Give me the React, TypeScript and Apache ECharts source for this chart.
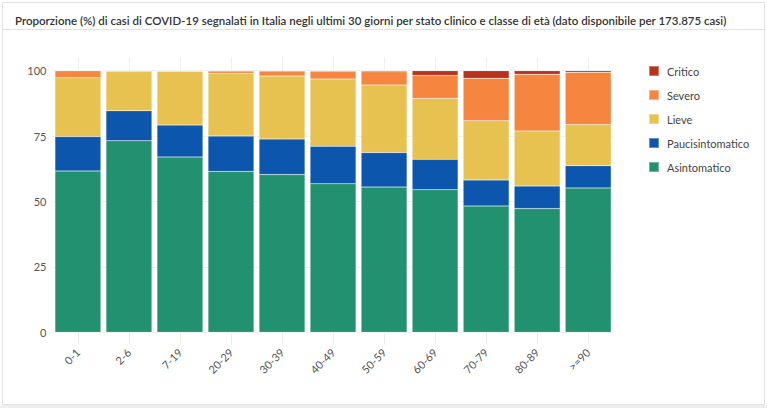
import React, { useEffect, useRef } from "react";
import * as echarts from "echarts";

// Age classes on the x axis
const categories = ["0-1", "2-6", "7-19", "20-29", "30-39", "40-49", "50-59", "60-69", "70-79", "80-89", ">=90"];

// Share (%) of cases by clinical status, one value per age class
const asintomatico = [61.7, 73.2, 67.0, 61.5, 60.3, 56.8, 55.5, 54.5, 48.3, 47.3, 55.2];
const paucisintomatico = [13.1, 11.5, 12.2, 13.5, 13.6, 14.3, 13.2, 11.6, 9.9, 8.6, 8.5];
const lieve = [22.5, 15.0, 20.6, 24.0, 24.1, 25.7, 25.8, 23.3, 22.7, 21.0, 15.7];
const severo = [2.7, 0.3, 0.2, 0.9, 1.9, 2.9, 5.1, 8.8, 16.2, 21.7, 20.0];
const critico = [0, 0, 0, 0.1, 0.1, 0.3, 0.4, 1.8, 2.9, 1.4, 0.6];

const yTicks = [0, 25, 50, 75, 100];

const TITLE =
  "Proporzione (%) di casi di COVID-19 segnalati in Italia negli ultimi 30 giorni per stato clinico e classe di età (dato disponibile per 173.875 casi)";

const FONT = "Lato, 'Noto Sans', sans-serif";

export default function App() {
  const ref = useRef<HTMLDivElement>(null);

  useEffect(() => {
    document.body.style.margin = "0";
    if (!ref.current) return;
    const chart = echarts.init(ref.current, undefined, { renderer: "svg" });

    const seriesDefs = [
      { name: "Asintomatico", data: asintomatico, color: "#22916f" },
      { name: "Paucisintomatico", data: paucisintomatico, color: "#0c57ad" },
      { name: "Lieve", data: lieve, color: "#e7c251" },
      { name: "Severo", data: severo, color: "#f6853f" },
      { name: "Critico", data: critico, color: "#b8321d" },
    ];

    chart.setOption({
      animation: false,
      backgroundColor: "#ffffff",
      textStyle: { fontFamily: FONT },
      title: {
        text: TITLE,
        left: 10,
        top: 9,
        textStyle: { fontFamily: FONT, fontSize: 11.5, fontWeight: 600, color: "#333" },
      },
      graphic: [
        {
          type: "rect",
          silent: true,
          z: -10,
          shape: { x: 2.5, y: 2.5, width: 762, height: 402 },
          style: { fill: "none", stroke: "#e2e2e2", lineWidth: 1 },
        },
        {
          type: "rect",
          silent: true,
          z: -10,
          shape: { x: 0, y: 405, width: 767, height: 3 },
          style: { fill: "#eeeeee" },
        },
        {
          type: "line",
          silent: true,
          z: -10,
          shape: { x1: 2.5, y1: 29.5, x2: 764.5, y2: 29.5 },
          style: { stroke: "#e2e2e2", lineWidth: 1 },
        },
      ],
      legend: {
        orient: "vertical",
        left: 643,
        top: 60,
        itemWidth: 10,
        itemHeight: 10,
        itemGap: 12,
        icon: "rect",
        data: ["Critico", "Severo", "Lieve", "Paucisintomatico", "Asintomatico"],
        textStyle: { fontFamily: FONT, fontSize: 11, color: "#444", padding: [0, 0, 0, 3] },
      },
      grid: { left: 52.4, right: 153.3, top: 57.6, bottom: 75.7 },
      xAxis: {
        type: "category",
        data: categories,
        axisLine: { show: false },
        axisTick: { show: true, alignWithLabel: true, length: 12, lineStyle: { color: "#ececec" } },
        splitLine: { show: true, alignWithLabel: true, lineStyle: { color: "#f0f0f0" } },
        axisLabel: { rotate: 45, margin: 18, fontSize: 11, color: "#555", fontFamily: FONT },
      },
      yAxis: {
        type: "value",
        min: 0,
        max: 105,
        interval: 25,
        axisLine: { show: false },
        axisTick: { show: false },
        splitLine: {
          show: true,
          lineStyle: { color: ["#f0f0f0", "#f0f0f0", "#f0f0f0", "#f0f0f0", "#f0f0f0", "rgba(0,0,0,0)"] },
        },
        axisLabel: {
          margin: 6,
          fontSize: 11,
          color: "#555",
          fontFamily: FONT,
          formatter: (v: number) => (yTicks.includes(v) ? String(v) : ""),
        },
      },
      series: seriesDefs.map((s) => ({
        name: s.name,
        type: "bar",
        stack: "tot",
        data: s.data,
        barCategoryGap: "10%",
        itemStyle: { color: s.color, borderColor: "rgba(255,255,255,0.35)", borderWidth: 0.5 },
        emphasis: { disabled: true },
      })),
    });

    return () => chart.dispose();
  }, []);

  return (
    <div
      ref={ref}
      style={{ position: "absolute", left: 0, top: 0, width: 767, height: 408 }}
    />
  );
}
